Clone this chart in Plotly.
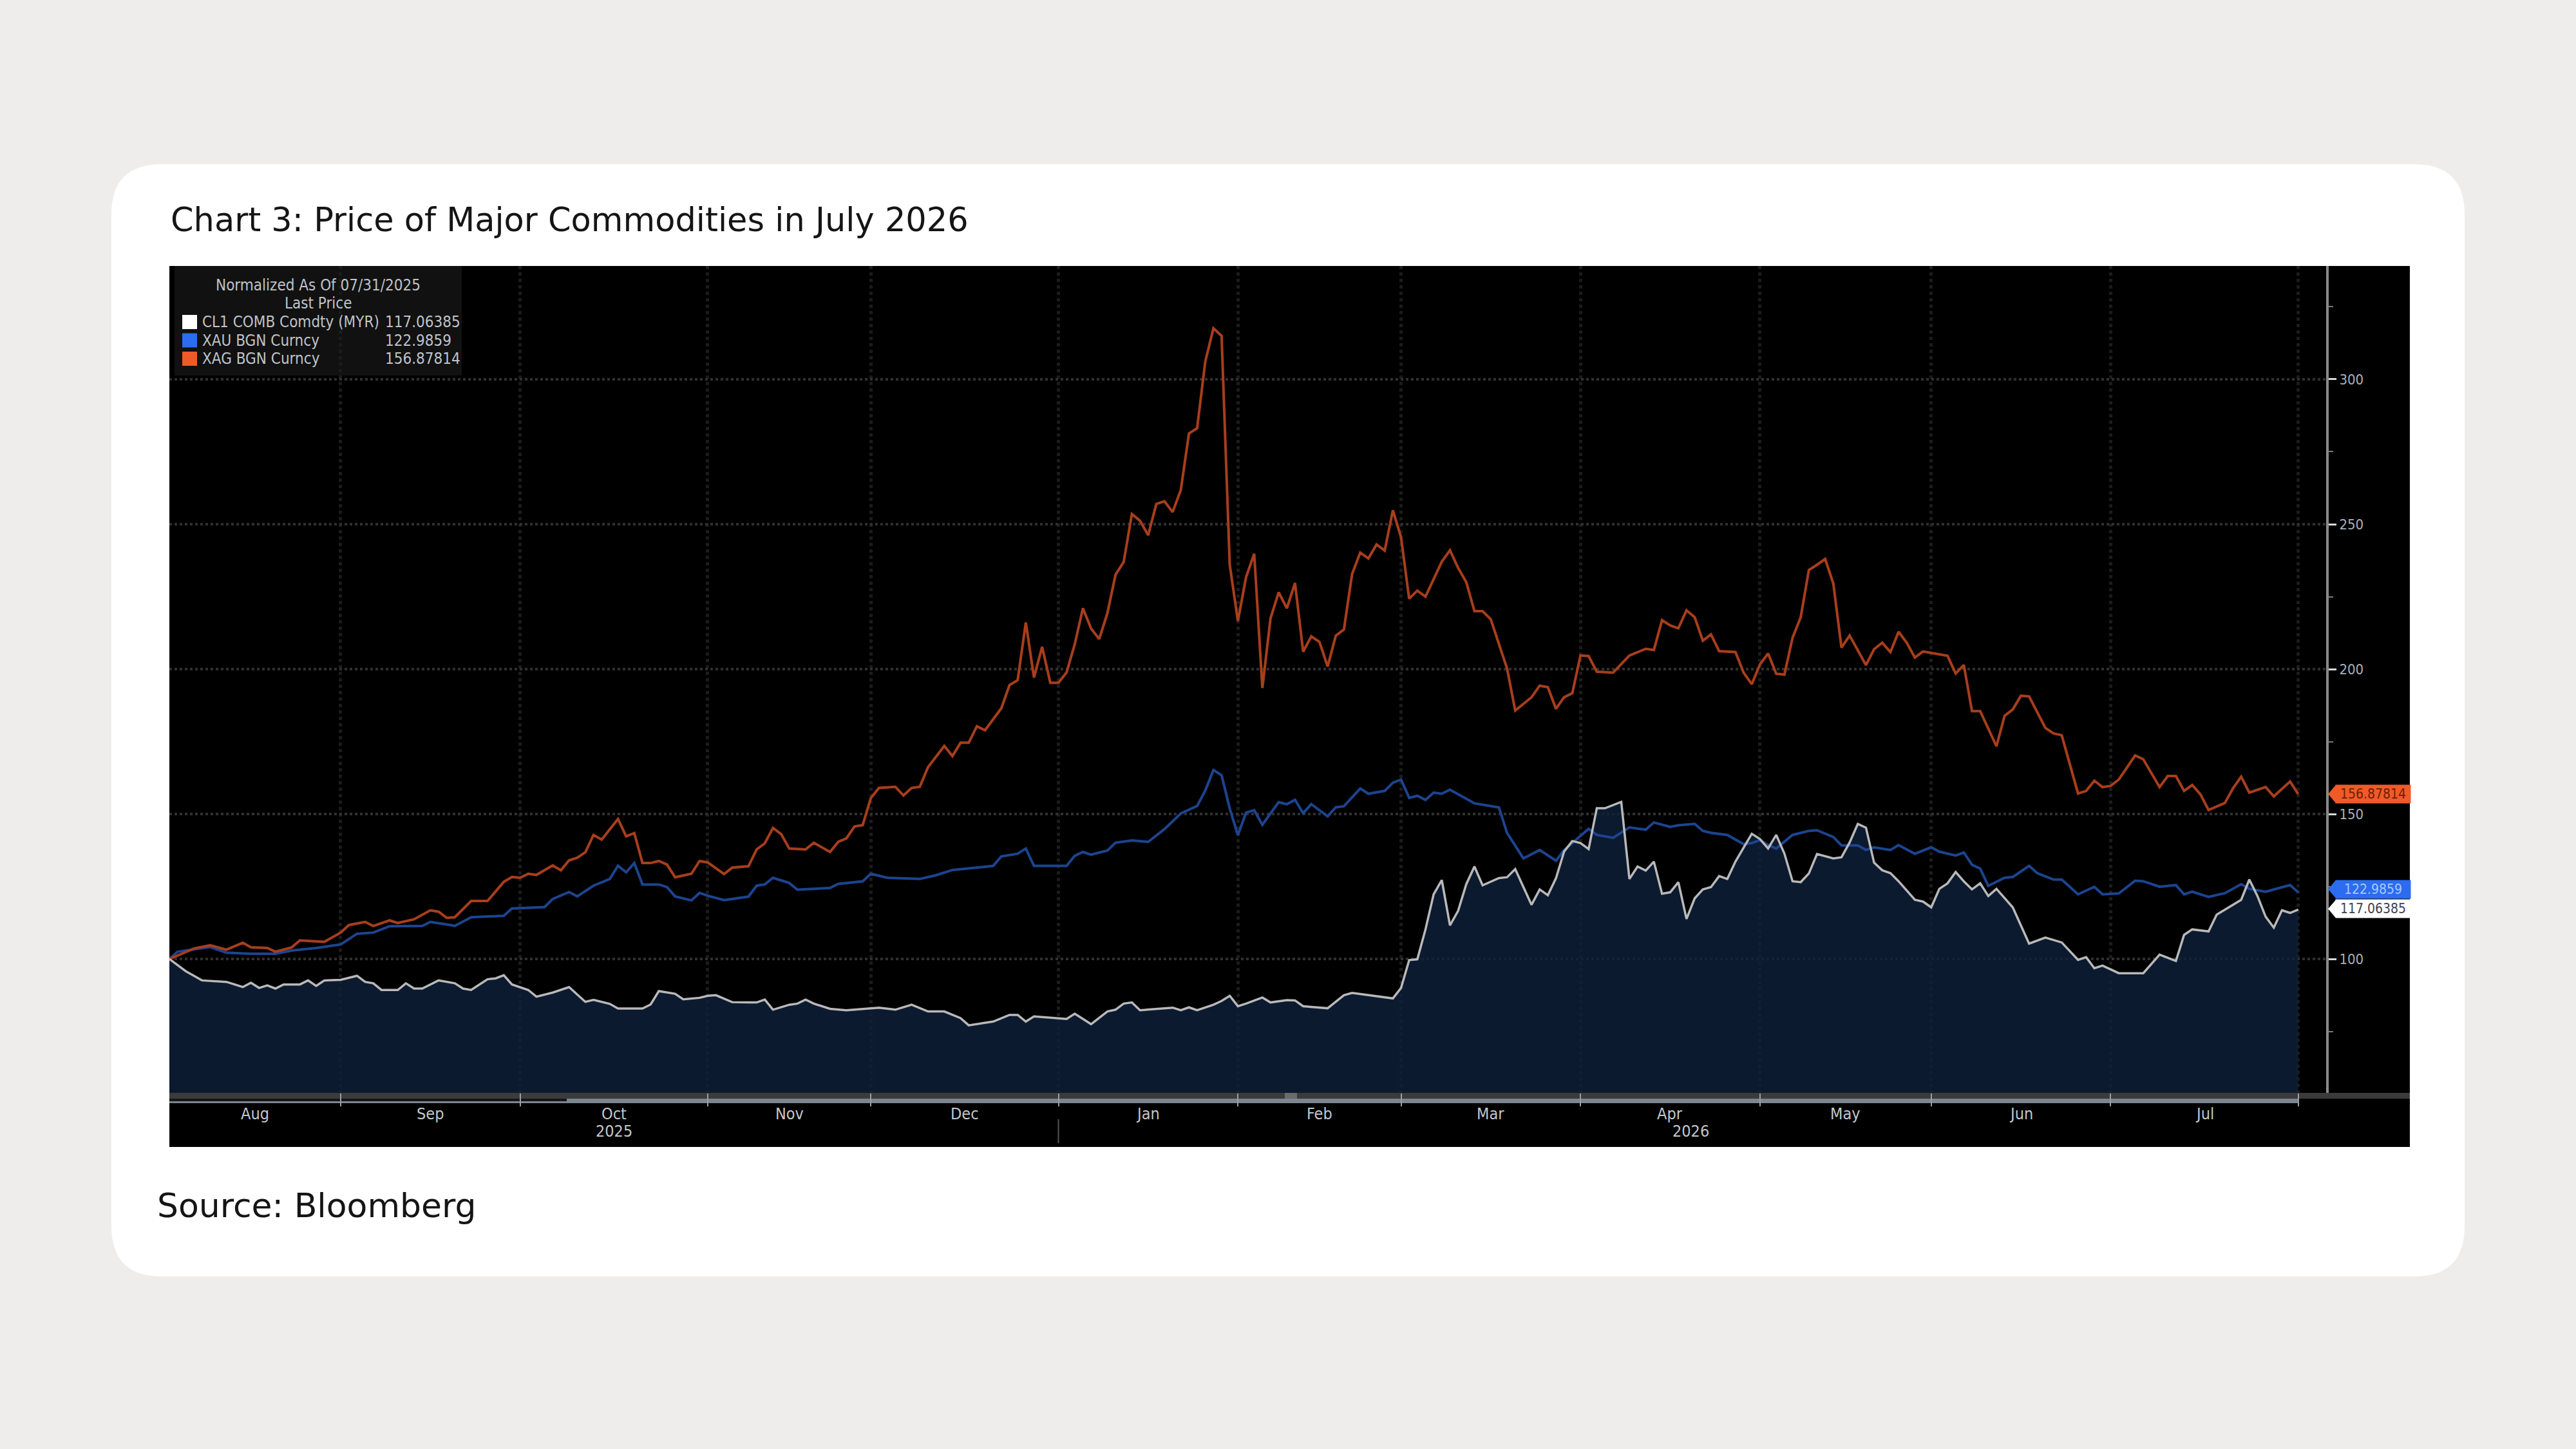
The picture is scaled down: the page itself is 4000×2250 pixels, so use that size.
import numpy as np
import pandas as pd
import plotly.graph_objects as go

# ---------------- data (normalized, 07/31/2025 = 100) ----------------
silver_dates = [
    "2025-07-31", "2025-08-05", "2025-08-07", "2025-08-11", "2025-08-13", "2025-08-14", "2025-08-18",
    "2025-08-19", "2025-08-21", "2025-08-22", "2025-08-27", "2025-08-29", "2025-09-01", "2025-09-03",
    "2025-09-04", "2025-09-08", "2025-09-09", "2025-09-11", "2025-09-15", "2025-09-16", "2025-09-17",
    "2025-09-18", "2025-09-22", "2025-09-24", "2025-09-26", "2025-09-29", "2025-09-30", "2025-10-01",
    "2025-10-02", "2025-10-06", "2025-10-07", "2025-10-08", "2025-10-09", "2025-10-10", "2025-10-13",
    "2025-10-14", "2025-10-16", "2025-10-17", "2025-10-20", "2025-10-21", "2025-10-22", "2025-10-23",
    "2025-10-24", "2025-10-27", "2025-10-29", "2025-10-30", "2025-10-31", "2025-11-04", "2025-11-05",
    "2025-11-07", "2025-11-10", "2025-11-11", "2025-11-12", "2025-11-13", "2025-11-14", "2025-11-18",
    "2025-11-19", "2025-11-21", "2025-11-24", "2025-11-25", "2025-11-26", "2025-11-27", "2025-11-28",
    "2025-12-01", "2025-12-03", "2025-12-04", "2025-12-05", "2025-12-08", "2025-12-09", "2025-12-11",
    "2025-12-12", "2025-12-15", "2025-12-16", "2025-12-17", "2025-12-18", "2025-12-22", "2025-12-23",
    "2025-12-24", "2025-12-25", "2025-12-26", "2025-12-29", "2025-12-30", "2025-12-31", "2026-01-01",
    "2026-01-02", "2026-01-05", "2026-01-06", "2026-01-07", "2026-01-08", "2026-01-09", "2026-01-12",
    "2026-01-13", "2026-01-14", "2026-01-15", "2026-01-16", "2026-01-19", "2026-01-20", "2026-01-21",
    "2026-01-22", "2026-01-23", "2026-01-26", "2026-01-27", "2026-01-28", "2026-01-29", "2026-01-30",
    "2026-02-02", "2026-02-03", "2026-02-04", "2026-02-05", "2026-02-06", "2026-02-09", "2026-02-10",
    "2026-02-11", "2026-02-12", "2026-02-13", "2026-02-16", "2026-02-17", "2026-02-18", "2026-02-19",
    "2026-02-20", "2026-02-23", "2026-02-24", "2026-02-25", "2026-02-26", "2026-02-27", "2026-03-02",
    "2026-03-03", "2026-03-04", "2026-03-06", "2026-03-09", "2026-03-10", "2026-03-11", "2026-03-12",
    "2026-03-13", "2026-03-16", "2026-03-18", "2026-03-19", "2026-03-23", "2026-03-24", "2026-03-25",
    "2026-03-26", "2026-03-27", "2026-03-30", "2026-03-31", "2026-04-01", "2026-04-02", "2026-04-06",
    "2026-04-07", "2026-04-08", "2026-04-10", "2026-04-13", "2026-04-14", "2026-04-15", "2026-04-16",
    "2026-04-17", "2026-04-20", "2026-04-21", "2026-04-22", "2026-04-23", "2026-04-27", "2026-04-28",
    "2026-04-29", "2026-04-30", "2026-05-01", "2026-05-04", "2026-05-05", "2026-05-06", "2026-05-07",
    "2026-05-08", "2026-05-11", "2026-05-12", "2026-05-13", "2026-05-14", "2026-05-15", "2026-05-19",
    "2026-05-20", "2026-05-21", "2026-05-22", "2026-05-25", "2026-05-26", "2026-05-27", "2026-05-28",
    "2026-06-02", "2026-06-03", "2026-06-04", "2026-06-05", "2026-06-08", "2026-06-10", "2026-06-11",
    "2026-06-12", "2026-06-15", "2026-06-16", "2026-06-18", "2026-06-19", "2026-06-22", "2026-06-24",
    "2026-06-25", "2026-06-26", "2026-06-29", "2026-06-30", "2026-07-01", "2026-07-03", "2026-07-06",
    "2026-07-08", "2026-07-09", "2026-07-10", "2026-07-13", "2026-07-14", "2026-07-15", "2026-07-16",
    "2026-07-20", "2026-07-21", "2026-07-22", "2026-07-23", "2026-07-27", "2026-07-28", "2026-07-30",
    "2026-07-31",
]
silver_vals = [
    100.0, 103.6, 104.7, 103.2, 105.6, 104.0, 103.8,
    102.5, 104.0, 106.4, 105.9, 109.1, 111.7, 112.8,
    111.4, 113.3, 112.4, 113.7, 116.8, 116.3, 114.2,
    114.4, 120.0, 120.0, 126.6, 128.3, 128.0, 129.4,
    129.0, 132.3, 130.6, 134.0, 134.9, 136.8, 142.8,
    141.2, 148.3, 142.3, 143.4, 133.1, 133.1, 133.8,
    132.6, 128.2, 129.4, 133.8, 133.3, 129.3, 131.5,
    132.0, 137.8, 139.9, 145.2, 143.1, 138.1, 137.8,
    140.1, 136.9, 140.4, 141.6, 145.7, 146.2, 155.5,
    159.0, 159.4, 156.4, 159.0, 159.4, 166.1, 173.5,
    170.0, 174.6, 174.6, 180.3, 178.9, 186.5, 194.5,
    196.2, 216.1, 197.1, 207.7, 195.3, 195.3, 198.9,
    208.6, 221.0, 214.0, 210.4, 219.3, 232.6, 237.0,
    253.5, 251.2, 246.2, 257.0, 257.9, 254.2, 261.8,
    281.3, 283.1, 306.1, 317.6, 315.0, 236.0, 216.6,
    231.7, 239.8, 193.5, 217.5, 226.5, 221.0, 229.7,
    206.0, 211.3, 209.4, 200.9, 211.5, 213.7, 232.8,
    240.2, 238.2, 243.0, 240.9, 254.8, 245.5, 224.3,
    227.1, 225.0, 237.1, 241.0, 234.9, 230.0, 220.0,
    220.0, 217.2, 200.2, 185.7, 190.3, 194.3, 193.8,
    186.3, 190.3, 191.7, 204.7, 204.5, 199.1, 198.8,
    201.6, 204.7, 207.0, 206.6, 216.9, 215.1, 214.1,
    220.3, 217.9, 209.8, 212.0, 206.2, 205.9, 198.8,
    194.8, 201.6, 205.4, 198.4, 198.1, 210.8, 217.9,
    234.2, 236.0, 238.0, 229.5, 207.4, 211.6, 201.4,
    206.9, 209.1, 205.9, 212.9, 209.1, 204.0, 206.1,
    204.6, 198.5, 201.4, 185.5, 185.5, 173.4, 183.9,
    186.1, 190.8, 190.6, 179.7, 177.8, 177.2, 157.1,
    158.0, 161.5, 159.3, 159.7, 161.9, 170.2, 168.9,
    159.3, 163.1, 163.1, 158.0, 160.0, 156.8, 151.4,
    153.8, 158.9, 162.9, 157.4, 159.3, 156.1, 161.2,
    156.87814,
]

gold_dates = [
    "2025-07-31", "2025-08-01", "2025-08-07", "2025-08-11", "2025-08-14", "2025-08-19", "2025-08-21",
    "2025-08-26", "2025-08-29", "2025-09-02", "2025-09-04", "2025-09-08", "2025-09-12", "2025-09-15",
    "2025-09-17", "2025-09-18", "2025-09-22", "2025-09-26", "2025-09-29", "2025-10-03", "2025-10-06",
    "2025-10-08", "2025-10-09", "2025-10-13", "2025-10-15", "2025-10-16", "2025-10-17", "2025-10-20",
    "2025-10-21", "2025-10-23", "2025-10-24", "2025-10-27", "2025-10-29", "2025-10-30", "2025-10-31",
    "2025-11-04", "2025-11-07", "2025-11-10", "2025-11-11", "2025-11-12", "2025-11-14", "2025-11-17",
    "2025-11-21", "2025-11-24", "2025-11-27", "2025-11-28", "2025-12-02", "2025-12-08", "2025-12-10",
    "2025-12-12", "2025-12-19", "2025-12-22", "2025-12-24", "2025-12-25", "2025-12-26", "2026-01-01",
    "2026-01-02", "2026-01-05", "2026-01-06", "2026-01-08", "2026-01-09", "2026-01-13", "2026-01-15",
    "2026-01-19", "2026-01-21", "2026-01-23", "2026-01-26", "2026-01-27", "2026-01-28", "2026-01-29",
    "2026-01-30", "2026-02-02", "2026-02-03", "2026-02-04", "2026-02-06", "2026-02-09", "2026-02-10",
    "2026-02-11", "2026-02-12", "2026-02-16", "2026-02-17", "2026-02-18", "2026-02-20", "2026-02-23",
    "2026-02-25", "2026-02-26", "2026-02-27", "2026-03-02", "2026-03-03", "2026-03-04", "2026-03-05",
    "2026-03-06", "2026-03-09", "2026-03-12", "2026-03-17", "2026-03-18", "2026-03-20", "2026-03-24",
    "2026-03-26", "2026-03-27", "2026-03-30", "2026-04-01", "2026-04-02", "2026-04-06", "2026-04-08",
    "2026-04-10", "2026-04-13", "2026-04-15", "2026-04-16", "2026-04-20", "2026-04-21", "2026-04-22",
    "2026-04-24", "2026-04-28", "2026-04-29", "2026-04-30", "2026-05-01", "2026-05-04", "2026-05-06",
    "2026-05-08", "2026-05-11", "2026-05-13", "2026-05-14", "2026-05-18", "2026-05-19", "2026-05-20",
    "2026-05-22", "2026-05-25", "2026-05-27", "2026-05-29", "2026-06-01", "2026-06-03", "2026-06-04",
    "2026-06-05", "2026-06-08", "2026-06-09", "2026-06-11", "2026-06-12", "2026-06-16", "2026-06-17",
    "2026-06-19", "2026-06-22", "2026-06-24", "2026-06-26", "2026-06-29", "2026-07-01", "2026-07-03",
    "2026-07-06", "2026-07-08", "2026-07-10", "2026-07-13", "2026-07-14", "2026-07-16", "2026-07-20",
    "2026-07-22", "2026-07-23", "2026-07-27", "2026-07-30", "2026-07-31",
]
gold_vals = [
    100.0, 102.5, 104.1, 102.2, 101.8, 101.8, 102.9,
    103.8, 105.0, 108.7, 109.1, 111.3, 111.4, 112.8,
    111.9, 111.4, 114.4, 114.9, 117.4, 117.9, 120.7,
    123.1, 121.6, 125.3, 127.6, 132.2, 129.9, 133.1,
    125.7, 125.7, 124.8, 121.6, 120.2, 122.8, 121.8,
    120.3, 121.5, 125.3, 125.7, 128.0, 126.2, 123.9,
    124.5, 125.9, 126.8, 129.4, 128.0, 127.6, 128.9,
    130.7, 132.1, 135.4, 136.3, 138.1, 132.1, 132.1,
    135.6, 136.9, 136.0, 137.4, 140.1, 140.9, 140.4,
    144.8, 150.2, 152.8, 158.1, 165.2, 163.4, 151.9,
    142.7, 150.5, 151.3, 146.3, 154.1, 153.4, 154.9,
    150.3, 153.4, 149.2, 152.3, 152.7, 158.8, 157.0,
    158.0, 160.8, 161.9, 155.6, 156.3, 154.9, 157.4,
    157.0, 158.4, 153.7, 152.3, 143.5, 134.7, 137.6,
    133.9, 137.6, 140.0, 144.9, 142.8, 141.8, 145.4,
    144.6, 147.1, 145.6, 146.1, 146.6, 144.2, 143.5,
    142.8, 139.6, 140.0, 141.0, 139.3, 138.1, 142.8,
    144.2, 144.4, 142.1, 139.2, 139.2, 137.6, 138.5,
    137.6, 139.3, 136.3, 138.5, 137.0, 135.7, 136.7,
    132.5, 131.2, 125.2, 128.0, 128.3, 132.1, 129.6,
    127.4, 127.4, 122.3, 124.9, 122.3, 122.6, 127.0,
    126.8, 124.9, 125.5, 122.3, 123.2, 121.4, 122.7,
    125.8, 124.2, 123.2, 125.5, 122.9859,
]

oil_dates = [
    "2025-07-31", "2025-08-04", "2025-08-06", "2025-08-11", "2025-08-13", "2025-08-14", "2025-08-15",
    "2025-08-18", "2025-08-19", "2025-08-20", "2025-08-22", "2025-08-25", "2025-08-26", "2025-08-27",
    "2025-08-29", "2025-09-02", "2025-09-03", "2025-09-04", "2025-09-05", "2025-09-09", "2025-09-10",
    "2025-09-11", "2025-09-12", "2025-09-16", "2025-09-18", "2025-09-19", "2025-09-22", "2025-09-24",
    "2025-09-25", "2025-09-26", "2025-09-29", "2025-10-01", "2025-10-02", "2025-10-06", "2025-10-08",
    "2025-10-10", "2025-10-13", "2025-10-15", "2025-10-16", "2025-10-21", "2025-10-22", "2025-10-23",
    "2025-10-27", "2025-10-28", "2025-10-30", "2025-10-31", "2025-11-03", "2025-11-05", "2025-11-07",
    "2025-11-10", "2025-11-11", "2025-11-12", "2025-11-14", "2025-11-17", "2025-11-18", "2025-11-19",
    "2025-11-21", "2025-11-25", "2025-12-01", "2025-12-03", "2025-12-05", "2025-12-09", "2025-12-11",
    "2025-12-12", "2025-12-15", "2025-12-16", "2025-12-19", "2025-12-23", "2025-12-24", "2025-12-25",
    "2025-12-26", "2026-01-01", "2026-01-02", "2026-01-06", "2026-01-08", "2026-01-09", "2026-01-12",
    "2026-01-13", "2026-01-14", "2026-01-20", "2026-01-21", "2026-01-22", "2026-01-23", "2026-01-27",
    "2026-01-28", "2026-01-29", "2026-01-30", "2026-02-02", "2026-02-04", "2026-02-05", "2026-02-09",
    "2026-02-10", "2026-02-11", "2026-02-16", "2026-02-18", "2026-02-19", "2026-02-24", "2026-02-26",
    "2026-02-27", "2026-03-02", "2026-03-03", "2026-03-04", "2026-03-05", "2026-03-06", "2026-03-09",
    "2026-03-10", "2026-03-11", "2026-03-12", "2026-03-13", "2026-03-17", "2026-03-18", "2026-03-19",
    "2026-03-23", "2026-03-24", "2026-03-25", "2026-03-26", "2026-03-27", "2026-03-30", "2026-03-31",
    "2026-04-01", "2026-04-02", "2026-04-03", "2026-04-07", "2026-04-08", "2026-04-09", "2026-04-10",
    "2026-04-13", "2026-04-14", "2026-04-15", "2026-04-16", "2026-04-17", "2026-04-20", "2026-04-21",
    "2026-04-22", "2026-04-23", "2026-04-24", "2026-04-27", "2026-04-29", "2026-04-30", "2026-05-01",
    "2026-05-04", "2026-05-05", "2026-05-06", "2026-05-07", "2026-05-08", "2026-05-11", "2026-05-13",
    "2026-05-14", "2026-05-15", "2026-05-18", "2026-05-19", "2026-05-20", "2026-05-21", "2026-05-22",
    "2026-05-25", "2026-05-27", "2026-05-28", "2026-05-29", "2026-06-01", "2026-06-02", "2026-06-03",
    "2026-06-04", "2026-06-05", "2026-06-08", "2026-06-09", "2026-06-10", "2026-06-12", "2026-06-16",
    "2026-06-18", "2026-06-22", "2026-06-24", "2026-06-25", "2026-06-26", "2026-06-29", "2026-07-01",
    "2026-07-06", "2026-07-08", "2026-07-10", "2026-07-13", "2026-07-14", "2026-07-16", "2026-07-17",
    "2026-07-22", "2026-07-23", "2026-07-24", "2026-07-27", "2026-07-28", "2026-07-29", "2026-07-30",
    "2026-07-31",
]
oil_vals = [
    100.0, 95.8, 92.6, 92.1, 90.3, 91.8, 90.0,
    90.9, 89.8, 91.2, 91.2, 92.6, 90.7, 92.6,
    92.8, 94.2, 92.1, 91.6, 89.3, 89.3, 91.6,
    89.8, 89.8, 92.6, 91.6, 89.8, 89.3, 93.0,
    93.3, 94.4, 91.2, 89.3, 87.0, 88.4, 90.3,
    85.2, 85.9, 84.5, 82.9, 82.9, 84.3, 88.9,
    88.0, 86.1, 86.6, 87.3, 87.5, 85.1, 85.0,
    85.0, 86.0, 82.5, 84.2, 84.6, 86.0, 84.6,
    82.8, 82.3, 83.2, 82.5, 84.2, 81.9, 81.9,
    80.7, 79.6, 77.1, 78.4, 80.7, 80.7, 78.4,
    80.2, 79.3, 81.1, 77.5, 81.9, 82.5, 84.6,
    85.0, 82.3, 83.2, 82.3, 83.3, 82.3, 84.2,
    85.5, 87.3, 83.7, 84.6, 86.7, 85.0, 85.8,
    85.7, 83.7, 83.0, 87.5, 88.3, 87.1, 86.4,
    90.0, 99.6, 99.9, 110.2, 122.3, 127.2, 111.6,
    116.6, 125.8, 131.9, 125.4, 127.9, 128.2, 131.0,
    118.7, 124.0, 122.0, 127.9, 137.1, 140.7, 140.0,
    137.9, 152.0, 152.0, 154.2, 127.6, 131.9, 130.5,
    133.6, 122.5, 123.0, 126.5, 113.8, 120.9, 124.0,
    124.8, 128.6, 127.6, 133.6, 143.2, 141.4, 138.1,
    142.8, 136.4, 126.8, 126.5, 129.5, 136.2, 134.7,
    135.1, 140.2, 146.6, 145.3, 133.2, 130.6, 129.6,
    126.8, 120.4, 119.8, 117.8, 124.2, 126.1, 130.0,
    126.8, 124.0, 126.1, 121.7, 124.2, 117.8, 105.3,
    107.4, 105.7, 99.7, 100.6, 96.8, 97.7, 95.1,
    95.1, 101.5, 99.3, 108.3, 110.2, 109.5, 115.3,
    120.4, 127.4, 121.7, 114.6, 110.8, 116.8, 115.9,
    117.06385,
]

series_names = ["CL1 COMB Comdty (MYR)", "XAU BGN Curncy", "XAG BGN Curncy"]
legend_title = "Normalized As Of 07/31/2025"
legend_subtitle = "Last Price"
title_text = "Chart 3: Price of Major Commodities in July 2026"
source_text = "Source: Bloomberg"
y_tick_values = [100, 150, 200, 250, 300]
x_start = "2025-07-31"
x_end = "2026-08-05 10:00"
y_range = [53.8, 339.1]

# ---------------- styling ----------------
W, H = 4000, 2250
PL, PR, PT, PB = 263, 3612, 413, 1697          # plot area in pixels
PW, PH = PR - PL, PB - PT
NARROW = "Liberation Sans Narrow, DejaVu Sans Condensed, Roboto Condensed, Arial Narrow, sans-serif"
SANS = "DejaVu Sans, Open Sans, sans-serif"

C_OIL = "#b9b9b9"
C_GOLD = "#1c4490"
C_SILVER = "#a83e1c"
C_FILL = "rgba(15,33,60,0.80)"
TAG_SILVER = "#f05a28"
TAG_GOLD = "#2b6cf0"
TAG_OIL = "#ffffff"


def px(x):
    return (x - PL) / PW


def py(y):
    return (PB - y) / PH


def vy(v):
    return (v - y_range[0]) / (y_range[1] - y_range[0])


def rounded_rect(x0, y0, x1, y1, r):
    pts = [
        ("M", [(x0 + r, y0)]), ("L", [(x1 - r, y0)]), ("Q", [(x1, y0), (x1, y0 + r)]),
        ("L", [(x1, y1 - r)]), ("Q", [(x1, y1), (x1 - r, y1)]), ("L", [(x0 + r, y1)]),
        ("Q", [(x0, y1), (x0, y1 - r)]), ("L", [(x0, y0 + r)]), ("Q", [(x0, y0), (x0 + r, y0)]),
    ]
    s = ""
    for cmd, coords in pts:
        s += cmd + " ".join(f"{px(a):.6f},{py(b):.6f}" for a, b in coords) + " "
    return s + "Z"


fig = go.Figure()

# oil fill (area)
fig.add_trace(go.Scatter(x=oil_dates, y=oil_vals, mode="lines", line=dict(width=0, color=C_OIL),
                         fill="tozeroy", fillcolor=C_FILL, hoverinfo="skip", showlegend=False))
fig.add_trace(go.Scatter(x=gold_dates, y=gold_vals, mode="lines", name=series_names[1],
                         line=dict(width=4, color=C_GOLD), showlegend=False))
fig.add_trace(go.Scatter(x=silver_dates, y=silver_vals, mode="lines", name=series_names[2],
                         line=dict(width=4, color=C_SILVER), showlegend=False))
fig.add_trace(go.Scatter(x=oil_dates, y=oil_vals, mode="lines", name=series_names[0],
                         line=dict(width=3.5, color=C_OIL), showlegend=False))

# ---------------- month grid / labels ----------------
grid = pd.date_range("2025-08-01", "2026-07-31", freq=pd.offsets.BMonthEnd())
grid_str = [d.strftime("%Y-%m-%d") for d in grid]


def bday_mid(a, b):
    a = np.datetime64(pd.Timestamp(a).date())
    b = np.datetime64(pd.Timestamp(b).date())
    n = int(np.busday_count(a, b))
    d = np.busday_offset(a, n // 2, roll="forward")
    ts = pd.Timestamp(d)
    if n % 2:
        ts = ts + pd.Timedelta(hours=12)
    return ts.strftime("%Y-%m-%d %H:%M")


annotations = []
prev = x_start
for g in grid:
    annotations.append(dict(x=bday_mid(prev, g), y=py(1729), xref="x", yref="paper",
                            text=g.strftime("%b"), showarrow=False,
                            font=dict(family=NARROW, size=25, color="#c3c7cc"),
                            xanchor="center", yanchor="middle"))
    prev = g
dec_end = [g for g in grid if g.month == 12][0]
for yr, (a, b) in zip(["2025", "2026"], [(x_start, dec_end), (dec_end, x_end[:10])]):
    annotations.append(dict(x=bday_mid(a, b), y=py(1757), xref="x", yref="paper", text=yr,
                            showarrow=False, font=dict(family=NARROW, size=25, color="#c3c7cc"),
                            xanchor="center", yanchor="middle"))

# ---------------- shapes ----------------
shapes = [
    dict(type="path", path=rounded_rect(173, 255, 3827, 1982, 78), xref="paper", yref="paper",
         fillcolor="#ffffff", line=dict(width=0), layer="below"),
    dict(type="rect", x0=px(263), x1=px(3742), y0=py(1781), y1=py(413), xref="paper", yref="paper",
         fillcolor="#000000", line=dict(width=0), layer="below"),
    # legend box
    dict(type="rect", x0=px(271), x1=px(717), y0=py(583), y1=py(413), xref="paper", yref="paper",
         fillcolor="#111111", line=dict(width=0), layer="below"),
    # scroll bar bands
    dict(type="rect", x0=px(263), x1=px(3742), y0=py(1706), y1=py(1697), xref="paper", yref="paper",
         fillcolor="#3b3b3b", line=dict(width=0), layer="below"),
    dict(type="rect", x0=px(263), x1=px(3569), y0=py(1713), y1=py(1706), xref="paper", yref="paper",
         fillcolor="#7b8691", line=dict(width=0), layer="below"),
    dict(type="rect", x0=px(263), x1=px(880), y0=py(1710), y1=py(1706), xref="paper", yref="paper",
         fillcolor="#161616", line=dict(width=0), layer="below"),
    dict(type="rect", x0=px(1995), x1=px(2014), y0=py(1706), y1=py(1697), xref="paper", yref="paper",
         fillcolor="#6a6a6a", line=dict(width=0), layer="below"),
    # year separator
    dict(type="line", x0=dec_end.strftime("%Y-%m-%d"), x1=dec_end.strftime("%Y-%m-%d"),
         y0=py(1738), y1=py(1775), xref="x", yref="paper", line=dict(color="#555555", width=2)),
]

# legend rows
legend_rows = [
    (series_names[0], oil_vals[-1], "#ffffff", "{:.5f}"),
    (series_names[1], gold_vals[-1], TAG_GOLD, "{:.4f}"),
    (series_names[2], silver_vals[-1], TAG_SILVER, "{:.5f}"),
]
lf = dict(family=NARROW, size=24, color="#bfc3c9")
annotations.append(dict(x=px(494), y=py(443), xref="paper", yref="paper", text=legend_title,
                        showarrow=False, font=lf, xanchor="center", yanchor="middle"))
annotations.append(dict(x=px(494), y=py(471), xref="paper", yref="paper", text=legend_subtitle,
                        showarrow=False, font=lf, xanchor="center", yanchor="middle"))
for i, (nm, val, col, fmt) in enumerate(legend_rows):
    yc = 500 + i * 28.5
    shapes.append(dict(type="rect", x0=px(283), x1=px(306), y0=py(yc + 11), y1=py(yc - 11),
                       xref="paper", yref="paper", fillcolor=col, line=dict(width=0)))
    annotations.append(dict(x=px(312), y=py(yc), xref="paper", yref="paper", text=nm, showarrow=False,
                            font=lf, xanchor="left", yanchor="middle"))
    annotations.append(dict(x=px(596), y=py(yc), xref="paper", yref="paper", text=fmt.format(val),
                            showarrow=False, font=lf, xanchor="left", yanchor="middle"))

# last-value tags on the right axis
tags = [
    (silver_vals[-1], TAG_SILVER, "#6e1d05", "{:.5f}", 0),
    (gold_vals[-1], TAG_GOLD, "#a9c8ff", "{:.4f}", 5),
    (oil_vals[-1], TAG_OIL, "#3a4350", "{:.5f}", 1),
]
for val, bg, fg, fmt, shift in tags:
    yc = vy(val) + shift / PH
    h = 14 / PH
    shapes.append(dict(type="path", xref="paper", yref="paper",
                       path=f"M{px(3615):.6f},{yc:.6f} L{px(3627):.6f},{yc + h:.6f} L{px(3627):.6f},{yc - h:.6f} Z",
                       fillcolor=bg, line=dict(width=0)))
    annotations.append(dict(x=px(3626), y=yc, xref="paper", yref="paper", text=fmt.format(val),
                            showarrow=False, xanchor="left", yanchor="middle", bgcolor=bg,
                            font=dict(family=NARROW, size=21, color=fg), width=112, align="center",
                            borderpad=2))

# title / source
annotations.append(dict(x=px(263), y=py(342), xref="paper", yref="paper", text=title_text,
                        showarrow=False, xanchor="left", yanchor="middle",
                        font=dict(family=SANS, size=51, color="#151515")))
annotations.append(dict(x=px(242), y=py(1872), xref="paper", yref="paper", text=source_text,
                        showarrow=False, xanchor="left", yanchor="middle",
                        font=dict(family=SANS, size=52, color="#151515")))

fig.update_layout(
    width=W, height=H,
    margin=dict(l=PL, r=W - PR, t=PT, b=H - PB, pad=0),
    paper_bgcolor="#eeedeb",
    plot_bgcolor="#000000",
    showlegend=False,
    shapes=shapes,
    annotations=annotations,
    xaxis=dict(
        type="date", range=[x_start, x_end],
        rangebreaks=[dict(bounds=["sat", "mon"])],
        tickmode="array", tickvals=grid_str, ticktext=[""] * len(grid_str),
        showticklabels=False, showgrid=True, gridcolor="#1c1c1c", gridwidth=5, griddash="dot",
        ticks="outside", ticklen=20, tickwidth=2, tickcolor="#9a9fa5",
        zeroline=False, showline=False, fixedrange=True,
    ),
    yaxis=dict(
        side="right", range=y_range, tickmode="array", tickvals=y_tick_values,
        ticktext=[str(v) for v in y_tick_values],
        showgrid=True, gridcolor="#303030", gridwidth=4, griddash="dot",
        ticks="outside", ticklen=12, tickwidth=3, tickcolor="#d8d8d8",
        minor=dict(dtick=25, tick0=0, ticks="outside", ticklen=7, tickwidth=2, tickcolor="#7a7a7a",
                   showgrid=False),
        showline=True, linecolor="#8a8a8a", linewidth=4, mirror=False,
        tickfont=dict(family=NARROW, size=22, color="#a9b1ba"),
        zeroline=False, fixedrange=True,
    ),
)

fig.write_html("out.html", include_plotlyjs=True, config={"displayModeBar": False},
               post_script="document.body.style.margin='0';document.body.style.overflow='hidden';")
